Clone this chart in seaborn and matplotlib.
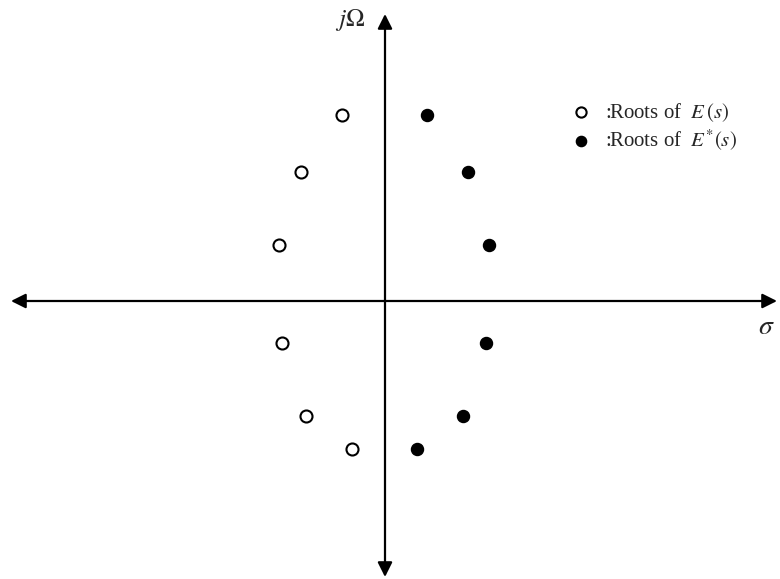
import matplotlib
matplotlib.use("Agg")
import matplotlib.pyplot as plt
import seaborn as sns
import pandas as pd

# Roots of E(s) (left half-plane) and of E*(s) (mirror images in the right half-plane)
sigma_E = [-0.43, -0.84, -1.06, -1.03, -0.79, -0.33]
omega_E = [1.86, 1.29, 0.56, -0.42, -1.15, -1.48]
sigma_Estar = [0.42, 0.83, 1.04, 1.01, 0.78, 0.32]
omega_Estar = [1.86, 1.29, 0.56, -0.42, -1.15, -1.48]
labels = [":Roots of  $E\\,(s)$", ":Roots of  $E^{*}(s)$"]

sns.set_style("white")
plt.rcParams["font.family"] = ["Liberation Serif", "DejaVu Serif"]
plt.rcParams["mathtext.fontset"] = "stix"

df_E = pd.DataFrame({"sigma": sigma_E, "omega": omega_E})
df_S = pd.DataFrame({"sigma": sigma_Estar, "omega": omega_Estar})

fig = plt.figure(figsize=(7.8, 5.79), dpi=100)
ax = fig.add_axes([0, 0, 1, 1])
ax.set_xlim(-3.85, 3.95)
ax.set_ylim(-2.78, 3.01)
ax.axis("off")

# Axes with arrowheads at both ends
arrow = dict(arrowstyle="<|-|>", color="black", lw=1.6,
             mutation_scale=22, shrinkA=0, shrinkB=0)
ax.annotate("", xy=(3.92, 0), xytext=(-3.74, 0), arrowprops=arrow)
ax.annotate("", xy=(0, 2.87), xytext=(0, -2.76), arrowprops=arrow)

sns.scatterplot(data=df_E, x="sigma", y="omega", ax=ax, s=75,
                facecolor="white", edgecolor="black", linewidth=1.5,
                label=labels[0], zorder=3)
sns.scatterplot(data=df_S, x="sigma", y="omega", ax=ax, s=75,
                color="black", edgecolor="black", linewidth=1.0,
                label=labels[1], zorder=3)

ax.text(-0.35, 2.81, r"$j\Omega$", fontsize=18, ha="center", va="center")
ax.text(3.81, -0.27, r"$\sigma$", fontsize=20, ha="center", va="center")

leg = ax.legend(loc="upper left", bbox_to_anchor=(0.71, 0.84), frameon=False,
                fontsize=15, handletextpad=0.25, labelspacing=0.2,
                markerscale=0.85, borderaxespad=0, handlelength=1.8)

fig.savefig("out.png", dpi=100)
